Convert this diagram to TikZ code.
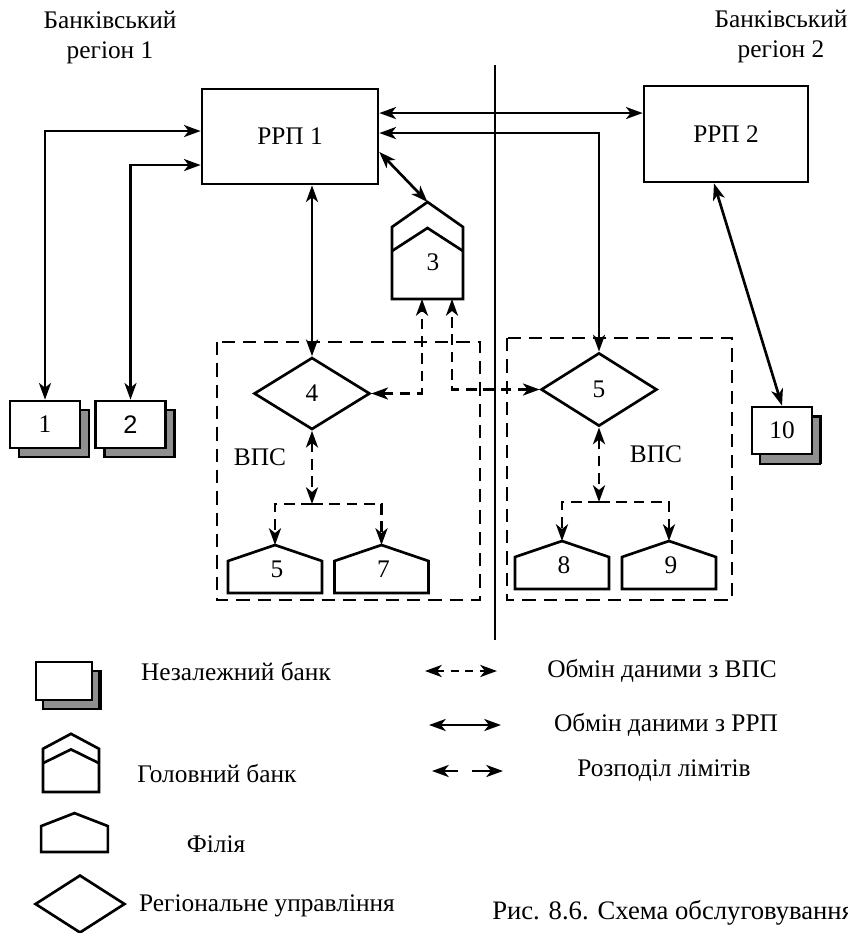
\documentclass[tikz,border=0pt]{standalone}
\usepackage{fontspec}
\setmainfont{Liberation Serif}
\newfontfamily\arialfont{Liberation Sans}
\usetikzlibrary{arrows.meta, shapes.geometric, shadows}
\definecolor{shadowgray}{HTML}{8F8F8F}

\tikzset{
  link/.style={line width=2pt, <->},
  vps/.style={line width=2.2pt, dash pattern=on 8pt off 5pt},
  vpsbox/.style={line width=2.2pt, dash pattern=on 10pt off 6pt},
  rrpbox/.style={draw, line width=2pt, inner sep=0pt},
  region/.style={diamond, draw, line width=2pt, inner sep=0pt, minimum width=87pt, minimum height=54pt},
  bank/.style={draw, fill=white, line width=2pt, inner sep=0pt,
    minimum width=52.5pt, minimum height=35.25pt,
    copy shadow={fill=shadowgray, draw=black, line width=2pt, shadow xshift=6.75pt, shadow yshift=-6.75pt}},
  filia/.pic={
    \draw[line width=2pt] (-47,0) -- (-47,-32) -- (0,-48) -- (47,-32) -- (47,0) -- cycle;
    \coordinate (-top) at (0,-48);
    \node at (2,-24) {#1};
  },
  headbank/.pic={
    \draw[line width=2pt] (-35.5,0) -- (-35.5,-72) -- (0,-97) -- (35.5,-72) -- (35.5,0) -- cycle;
    \draw[line width=2pt] (-35.5,-48) -- (0,-71) -- (35.5,-48);
    \coordinate (-top) at (0,-97);
    \coordinate (-in1) at (-5.5,0);
    \coordinate (-in2) at (24.5,0);
    \node at (5.5,-37) {#1};
  }
}

\begin{document}
\begin{tikzpicture}[
    x=0.75pt, y=-0.75pt,
    >={Stealth[length=12.5pt, width=9pt, inset=3.5pt]},
    font=\fontsize{19}{22.5}\selectfont
]
    \useasboundingbox (0,0) rectangle (848,933);
    \clip (0,0) rectangle (848,933);

    % Regions and the border between them
    \node[align=center] (reg1) at (110,38) {Банківський\\регіон 1};
    \node[align=center] (reg2) at (781,37) {Банківський\\регіон 2};
    \draw[line width=2pt] (495,65) -- (495,640);

    % --- RRP centres ---
    \node[rrpbox, minimum width=132pt, minimum height=71.25pt] (rrp1) at (290,136.5) {РРП 1};
    \node[rrpbox, minimum width=123pt, minimum height=72pt] (rrp2) at (726,134) {РРП 2};

    % Independent banks
    \node[bank] (b1) at (45,424.5) {1};
    \node[bank] (b2) at (130.5,424.5) {\arialfont 2};
    \node[bank, minimum width=45pt, copy shadow={fill=shadowgray, draw=black, line width=2pt, shadow xshift=6pt, shadow yshift=-7.5pt}] (b10) at (782,430.5) {10};

    % Head bank
    \pic (hb3) at (427.5,299) {headbank=3};

    % --- VPS (left and right) ---
    \draw[vpsbox] (217,342) rectangle (480,600);
    \draw[vpsbox] (507,338) rectangle (732,600);
    \node[region] (d4) at (312,393.5) {4};
    \node[region, minimum height=55pt] (d5) at (599,389.5) {5};
    \node (vps1) at (260,457) {ВПС};
    \node (vps2) at (656,454) {ВПС};
    \pic (f5) at (275,593) {filia=5};
    \pic (f7) at (381.5,593) {filia=7};
    \pic (f8) at (562,589) {filia=8};
    \pic (f9) at (669,589) {filia=9};

    % Exchange with RRP
    \coordinate (r1a) at ([yshift=17.6pt]rrp1.east);
    \coordinate (r1b) at ([yshift=2.6pt]rrp1.east);
    \coordinate (r1c) at ([yshift=-11.6pt]rrp1.east);
    \coordinate (r1l1) at ([yshift=4.1pt]rrp1.west);
    \coordinate (r1l2) at ([yshift=-21.4pt]rrp1.west);
    \coordinate (r2s) at ([xshift=-9pt]rrp2.south);
    \draw[link] (r1a) -- (r1a -| rrp2.west);
    \draw[link] (r1b) -| (d5.north);
    \draw[link] (r1c) -- (hb3-top);
    \draw[link] (rrp1.south -| d4.north) -- (d4.north);
    \draw[link] (r1l1) -| (b1.north);
    \draw[link] (r1l2) -| (b2.north);
    \draw[link] (r2s) -- (b10.north);

    % Exchange with VPS
    \draw[vps, <->] (d4.east) -| (hb3-in1);
    \draw[vps, <->] (d5.west) -| (hb3-in2);
    \coordinate (j4) at (d4.south |- 0,504);
    \coordinate (j5) at (d5.south |- 0,502);
    \draw[vps, <->] (d4.south) -- (j4);
    \draw[vps, ->] (j4) -| (f5-top);
    \draw[vps, ->] (j4) -| (f7-top);
    \draw[vps, <->] (d5.south) -- (j5);
    \draw[vps, ->] (j5) -| (f8-top);
    \draw[vps, ->] (j5) -| (f9-top);

    % --- LEGEND ---
    \node[bank, minimum width=42pt, minimum height=28.5pt, copy shadow={fill=shadowgray, draw=black, line width=2pt, shadow xshift=5.25pt, shadow yshift=-6.75pt}] (lb) at (64,681) {};
    \node (lbt) at (236,672) {Незалежний банк};
    \pic[xscale=0.79, yscale=0.6] (lhb) at (71,792) {headbank=};
    \node (lhbt) at (217,774) {Головний банк};
    \pic[xscale=0.71, yscale=0.81] (lf) at (74.5,852) {filia=};
    \node (lft) at (216,844) {Філія};
    \node[region, minimum width=67.5pt, minimum height=43.5pt] (ld) at (80,904) {};
    \node (ldt) at (267,906) {Регіональне управління};

    \coordinate (la1) at (425,671);
    \coordinate (la2) at (497,671);
    \coordinate (lb1) at (429,725);
    \coordinate (lb2) at (501,725);
    \coordinate (lc1) at (432,771);
    \coordinate (lc2) at (503,771);
    \draw[vps, dash pattern=on 6pt off 5pt, <->] (la1) -- (la2);
    \draw[link] (lb1) -- (lb2);
    \draw[vps, dash pattern=on 11pt off 11pt on 30pt, <->] (lc1) -- (lc2);
    \node (lat) at (662,671) {Обмін даними з ВПС};
    \node (lbt2) at (666,725) {Обмін даними з РРП};
    \node (lct) at (664,771) {Розподіл лімітів};

    % Caption
    \node[anchor=west, inner sep=0pt, font=\fontsize{20}{24}\selectfont] (cap) at (492,913) {Рис. 8.6. Схема обслуговування};

\end{tikzpicture}
\end{document}
